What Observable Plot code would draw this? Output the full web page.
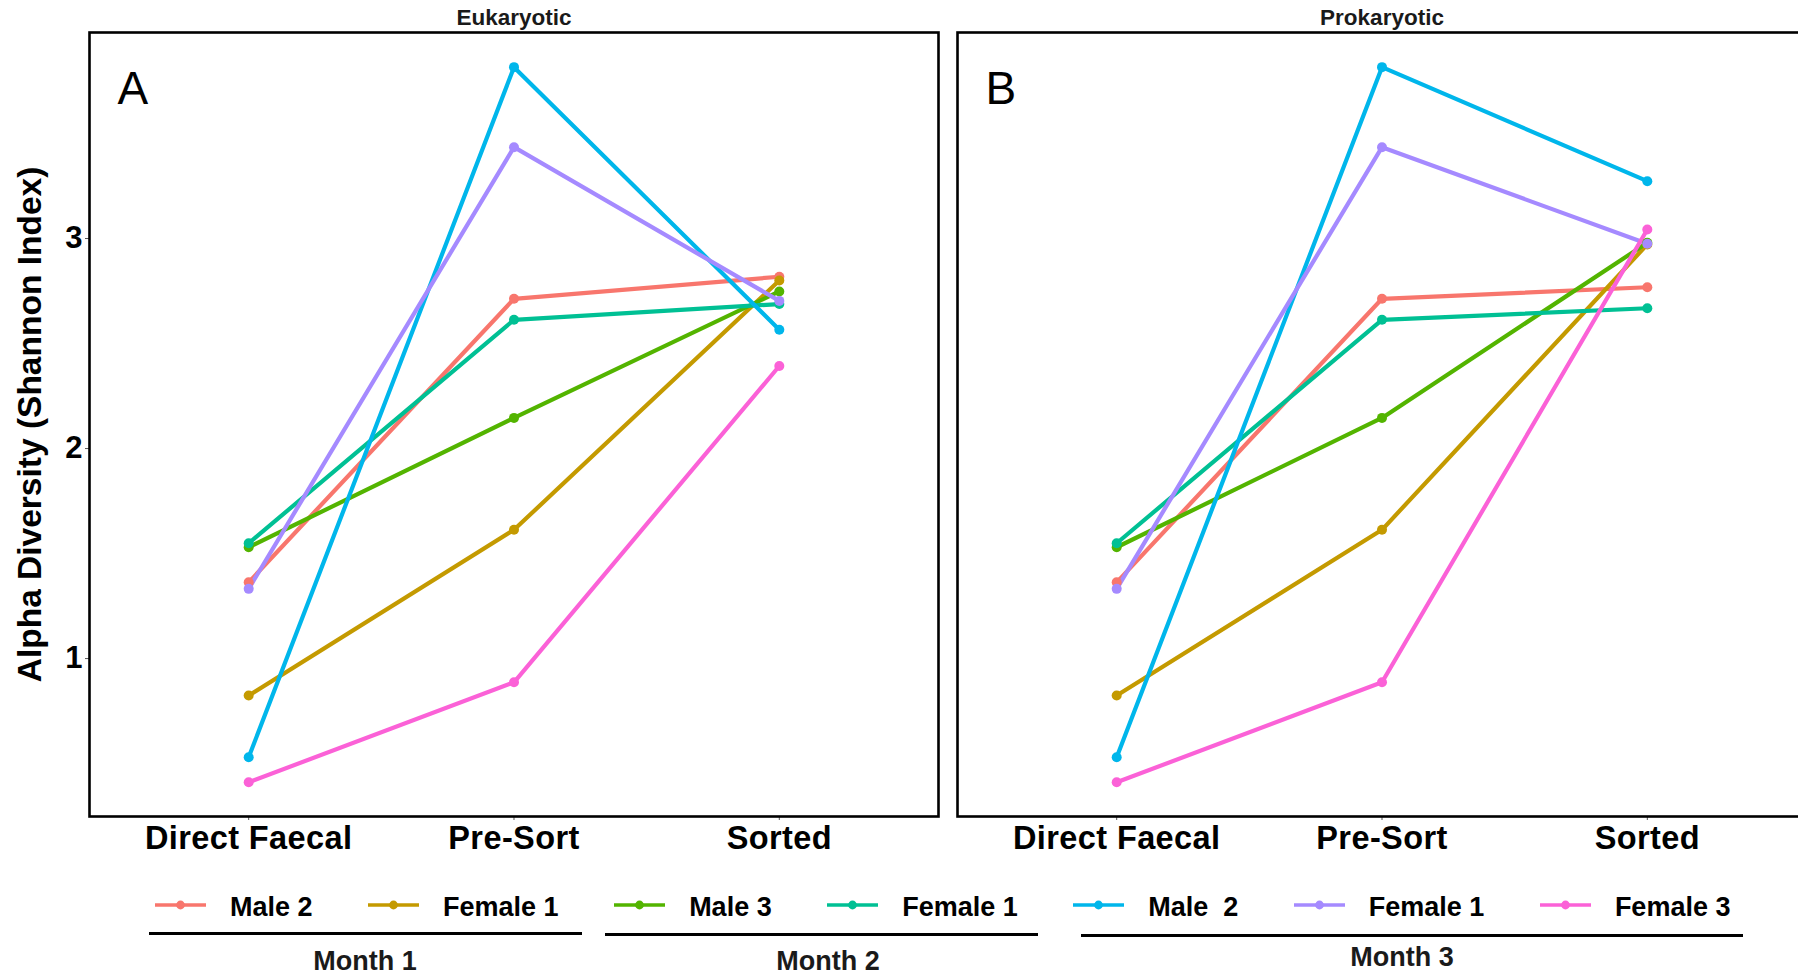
<!DOCTYPE html>
<html>
<head>
<meta charset="utf-8">
<script src="https://cdn.jsdelivr.net/npm/d3@7"></script>
<script src="https://cdn.jsdelivr.net/npm/@observablehq/plot@0.6"></script>
<style>
  html, body { margin: 0; padding: 0; background: #fff; }
  #fig { position: relative; width: 1798px; height: 978px; overflow: hidden; background: #fff;
         font-family: "Liberation Sans", Arial, sans-serif; color: #000; }
  #chart { position: absolute; left: 0; top: 0; width: 1808px; }
  #chart svg { max-width: none !important; }
  #chart svg g[aria-label="x-axis tick label"] text { letter-spacing: 0.4px; }
  #legend { position: absolute; left: 155px; top: 892px; display: flex; align-items: center; }
  .item { display: flex; align-items: center; height: 30px; margin-right: 55.5px; }
  .item svg { position: relative; top: -2px; }
  .item span { margin-left: 24px; font-weight: bold; font-size: 27px; line-height: 30px; white-space: pre; }
  .rule { position: absolute; height: 3px; background: #000; }
  .month { position: absolute; font-weight: bold; font-size: 27px; line-height: 27px; color: #1a1a1a;
           transform: translateX(-50%); white-space: nowrap; }
</style>
</head>
<body>
<div id="fig">
  <div id="chart"></div>
  <div id="legend"></div>
</div>
<script>
// Sampling stages along the x axis
const stages = ["Direct Faecal", "Pre-Sort", "Sorted"];
// Facet panels and their corner letters
const panels = ["Eukaryotic", "Prokaryotic"];
const panelLetters = ["A", "B"];
// One series per animal
const sampleLabels = ["Male 2", "Female 1", "Male 3", "Female 1", "Male  2", "Female 1", "Female 3"];
const sampleMonths = ["Month 1", "Month 1", "Month 2", "Month 2", "Month 3", "Month 3", "Month 3"];
const sampleColors = ["#F8766D", "#C49A00", "#53B400", "#00C094", "#00B6EB", "#A58AFF", "#FB61D7"];
// Shannon index per series: [Direct Faecal, Pre-Sort, Sorted]
const eukaryoticValues = [
  [1.363, 2.713, 2.818],
  [0.824, 1.613, 2.800],
  [1.530, 2.146, 2.748],
  [1.549, 2.613, 2.688],
  [0.530, 3.816, 2.566],
  [1.332, 3.435, 2.703],
  [0.411, 0.887, 2.393]
];
const prokaryoticValues = [
  [1.363, 2.713, 2.768],
  [0.824, 1.613, 2.972],
  [1.530, 2.146, 2.980],
  [1.549, 2.613, 2.668],
  [0.530, 3.816, 3.273],
  [1.332, 3.435, 2.975],
  [0.411, 0.887, 3.043]
];
const yTicks = [1, 2, 3];
const yTitle = "Alpha Diversity (Shannon Index)";
const monthNames = ["Month 1", "Month 2", "Month 3"];

// Long-format table for the marks
const valuesByPanel = [eukaryoticValues, prokaryoticValues];
const rows = [];
panels.forEach((panel, p) => {
  sampleLabels.forEach((label, i) => {
    stages.forEach((stage, j) => {
      rows.push({panel, id: i, label, stage, value: valuesByPanel[p][i][j]});
    });
  });
});
const letterRows = panels.map((panel, p) => ({panel, letter: panelLetters[p]}));

const font = "Liberation Sans, Arial, sans-serif";

const chart = Plot.plot({
  width: 1808,
  height: 870,
  marginLeft: 89,
  marginRight: 2,
  marginTop: 32,
  marginBottom: 54,
  style: {fontFamily: font, color: "#000", background: "#fff", maxWidth: "none"},
  fx: {domain: panels, paddingInner: 0.0219, paddingOuter: 0, round: false},
  x: {domain: stages, type: "point", padding: 0.6, round: false},
  y: {domain: [0.248, 3.981]},
  color: {domain: d3.range(sampleLabels.length), range: sampleColors},
  marks: [
    Plot.axisFx({anchor: "top", tickSize: 0, tickPadding: 7.5, fontSize: 22.5, fontWeight: "bold", label: null, fill: "#1a1a1a"}),
    Plot.axisX({anchor: "bottom", tickSize: 4, tickPadding: 5, fontSize: 32.5, fontWeight: "bold", label: null, stroke: "#555", fill: "#000"}),
    Plot.axisY({ticks: yTicks, tickSize: 4, tickPadding: 3, fontSize: 31, fontWeight: "bold", label: null, stroke: "#555", fill: "#000", tickFormat: d3.format("d")}),
    Plot.text([{panel: panels[0]}], {
      fx: "panel", frameAnchor: "left", textAnchor: "middle", rotate: -90, dx: -72, lineAnchor: "top",
      text: () => yTitle, fontSize: 33.5, fontWeight: "bold", fill: "#000"
    }),
    Plot.line(rows, {fx: "panel", x: "stage", y: "value", z: "id", stroke: "id", strokeWidth: 4.2, strokeLinejoin: "round", strokeLinecap: "round"}),
    Plot.dot(rows, {fx: "panel", x: "stage", y: "value", fill: "id", r: 5}),
    Plot.text(letterRows, {
      fx: "panel", text: "letter", frameAnchor: "top-left", textAnchor: "start", lineAnchor: "top",
      dx: 28, dy: 39, fontSize: 46, fontWeight: "normal", fill: "#000"
    }),
    Plot.frame({stroke: "#000", strokeWidth: 2.6})
  ]
});
document.getElementById("chart").appendChild(chart);

// Legend row
const legend = d3.select("#legend");
sampleLabels.forEach((label, i) => {
  const item = legend.append("div").attr("class", "item");
  const svg = item.append("svg").attr("width", 51).attr("height", 14);
  svg.append("line").attr("x1", 0).attr("x2", 51).attr("y1", 7).attr("y2", 7)
    .attr("stroke", sampleColors[i]).attr("stroke-width", 3.6);
  svg.append("circle").attr("cx", 25.5).attr("cy", 7).attr("r", 4.4).attr("fill", sampleColors[i]);
  item.append("span").text(label);
});

// Month brackets under the legend
const monthLayout = {
  "Month 1": {x0: 149, x1: 582, y: 932, labelX: 365, labelTop: 948},
  "Month 2": {x0: 605, x1: 1038, y: 933, labelX: 828, labelTop: 948},
  "Month 3": {x0: 1081, x1: 1743, y: 934, labelX: 1402, labelTop: 944}
};
const fig = d3.select("#fig");
monthNames.forEach((m) => {
  const L = monthLayout[m];
  fig.append("div").attr("class", "rule")
    .style("left", L.x0 + "px").style("width", (L.x1 - L.x0) + "px").style("top", L.y + "px");
  fig.append("div").attr("class", "month")
    .style("left", L.labelX + "px").style("top", L.labelTop + "px").text(m);
});
</script>
</body>
</html>
